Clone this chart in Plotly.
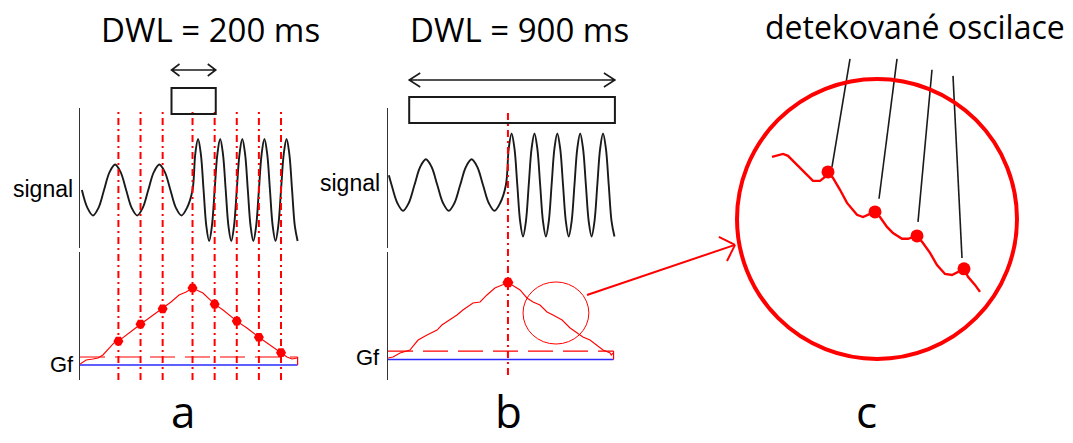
import math
import plotly.graph_objects as go

W, H = 1073, 443

# ---- data ---------------------------------------------------------------
# test signal sampled at eighth-periods (time in ms, amplitude):
# 5 Hz half-amplitude wave up to 500 ms, then 10 Hz full-amplitude wave
SIG_T = [-12, 0, 25, 50, 75, 100, 125, 150, 175, 200, 225, 250, 275, 300, 325, 350,
         375, 400, 425, 450, 475,
         500, 512.5, 525, 537.5, 550, 562.5, 575, 587.5,
         600, 612.5, 625, 637.5, 650, 662.5, 675, 687.5,
         700, 712.5, 725, 737.5, 750, 762.5, 775, 787.5,
         800, 812.5, 825, 837.5, 850, 862.5, 875, 887.5,
         900, 912.5, 925, 937.5, 950, 962.5, 975]
SIG_V = [0.19, 0, -0.35, -0.5, -0.35, 0, 0.35, 0.5, 0.35, 0, -0.35, -0.5, -0.35, 0, 0.35, 0.5,
         0.35, 0, -0.35, -0.5, -0.35,
         0, 0.71, 1, 0.71, 0, -0.71, -1, -0.71,
         0, 0.71, 1, 0.71, 0, -0.71, -1, -0.71,
         0, 0.71, 1, 0.71, 0, -0.71, -1, -0.71,
         0, 0.71, 1, 0.71, 0, -0.71, -1, -0.71,
         0, 0.71, 1, 0.71, 0, -0.71, -1]

# Gf with DWL = 200 ms
GF_A_T = [-8, 19, 50, 73, 95, 122, 145, 165, 199, 231, 265, 303, 335, 365, 403, 439,
          471, 500, 547, 600, 638, 700, 746, 800, 850, 900, 927, 950, 972]
GF_A_V = [0.13, 0.65, 0.78, 0.91, 1.30, 2.21, 2.86, 3.10, 3.90, 4.55, 5.30, 6.10,
          6.75, 7.30, 8.18, 9.09, 9.48, 10.0, 9.35, 7.90, 7.14, 5.70, 4.81, 3.60,
          2.60, 1.60, 1.04, 0.78, 0.91]
DET_A_T = [165, 265, 365, 500, 600, 700, 800, 900]
DET_A_V = [3.10, 5.30, 7.30, 10.0, 7.90, 5.70, 3.60, 1.60]
THR_A = 1.04

# Gf with DWL = 900 ms
GF_B_T = [-15, 6, 37, 80, 94, 116, 155, 199, 220, 255, 286, 312, 356, 387, 417, 452,
          483, 509, 527, 562, 592, 619, 649, 680, 706, 746, 781, 811, 837, 868, 899,
          925, 956, 961, 968]
GF_B_V = [0.19, 0.32, 0.84, 1.23, 1.75, 2.53, 3.18, 3.83, 4.48, 5.13, 5.78, 6.43,
          7.34, 7.47, 8.38, 9.29, 9.68, 10.0, 9.68, 9.03, 7.99, 7.47, 7.08, 6.17,
          5.78, 5.13, 4.09, 3.44, 2.92, 2.53, 1.88, 1.23, 0.84, 0.58, 0.84]
DET_B_T = [509]
DET_B_V = [10.0]
THR_B = 1.10

# analysis windows: (centre, DWL) in ms
WIN_A = (505, 200)
WIN_B = (527, 900)

# magnified detail of the descending Gf slope
ZOOM_T = [615, 626, 631, 640, 650, 656, 663, 668, 671, 676, 683, 690, 700, 706, 713,
          718, 723, 730, 736, 745, 751, 756, 760, 766, 773, 780, 788, 795, 801, 807,
          811, 818, 823]
ZOOM_V = [7.94, 8.03, 7.97, 7.69, 7.38, 7.19, 7.19, 7.31, 7.47, 7.28, 6.91, 6.50,
          6.13, 6.06, 6.16, 6.22, 6.06, 5.75, 5.56, 5.38, 5.38, 5.44, 5.47, 5.25,
          4.94, 4.56, 4.28, 4.25, 4.34, 4.44, 4.19, 3.94, 3.72]
ZOOM_DET_T = [671, 718, 760, 807]
ZOOM_DET_V = [7.47, 6.22, 5.47, 4.44]

# leader lines of the "detected oscillations" label (start near text, end near dot)
LEAD_T0 = [693, 740, 775, 796]
LEAD_V0 = [11.0, 11.0, 10.66, 10.47]
LEAD_T1 = [675, 722, 761, 805]
LEAD_V1 = [7.63, 6.63, 5.91, 4.78]

# ---- geometry -----------------------------------------------------------
A_XPX, B_XPX = (80, 300), (388, 616)
SIG_YPX, GF_YPX = (108, 248), (252, 380)
A_TR, B_TR = [-8.6, 985.8], [-15.75, 981.75]
A_SR, B_SR = [-1.137, 1.608], [-1.223, 1.495]
A_GR, B_GR = [-1.95, 14.68], [-2.66, 13.96]
C_TR, C_GR = [-157, 916], [-1.0, 12.84]

RED = "#ff0000"
INK = "#1a1a1a"


def fx(px):
    return px / W


def fy(py):
    return 1 - py / H


def xdom(p):
    return [fx(p[0]), fx(p[1])]


def ydom(p):
    return [fy(p[1]), fy(p[0])]


def ms_per_px(tr, xpx):
    return (tr[1] - tr[0]) / (xpx[1] - xpx[0])


fig = go.Figure()

# signals
fig.add_trace(go.Scatter(x=SIG_T[1:], y=SIG_V[1:], xaxis="x", yaxis="y", mode="lines",
                         line=dict(color=INK, width=1.9, shape="spline")))
fig.add_trace(go.Scatter(x=SIG_T, y=SIG_V, xaxis="x2", yaxis="y3", mode="lines",
                         line=dict(color=INK, width=1.9, shape="spline")))


def gf_panel(xa, ya, tr, gt, gv, dt, dv, thr, msize):
    t_end = gt[-1]
    fig.add_trace(go.Scatter(x=[tr[0], t_end + 3], y=[0, 0], xaxis=xa, yaxis=ya,
                             mode="lines", line=dict(color="#2a2aff", width=1.3)))
    fig.add_trace(go.Scatter(x=[tr[0], t_end + 3], y=[thr, thr], xaxis=xa, yaxis=ya,
                             mode="lines",
                             line=dict(color=RED, width=1.2, dash="25px,10px")))
    fig.add_trace(go.Scatter(x=[t_end + 3, t_end + 3], y=[thr, 0], xaxis=xa, yaxis=ya,
                             mode="lines", line=dict(color=RED, width=1.2)))
    fig.add_trace(go.Scatter(x=gt, y=gv, xaxis=xa, yaxis=ya, mode="lines",
                             line=dict(color=RED, width=1.1)))
    fig.add_trace(go.Scatter(x=dt, y=dv, xaxis=xa, yaxis=ya, mode="markers",
                             marker=dict(color=RED, size=msize, symbol="hexagon2",
                                         line=dict(width=0))))


gf_panel("x", "y2", A_TR, GF_A_T, GF_A_V, DET_A_T, DET_A_V, THR_A, 10)
gf_panel("x2", "y4", B_TR, GF_B_T, GF_B_V, DET_B_T, DET_B_V, THR_B, 11)

# magnified detail
fig.add_trace(go.Scatter(x=ZOOM_T, y=ZOOM_V, xaxis="x3", yaxis="y5", mode="lines",
                         line=dict(color=RED, width=2.4)))
fig.add_trace(go.Scatter(x=ZOOM_DET_T, y=ZOOM_DET_V, xaxis="x3", yaxis="y5",
                         mode="markers", marker=dict(color=RED, size=13)))
lx, ly = [], []
for a, b, c, d in zip(LEAD_T0, LEAD_V0, LEAD_T1, LEAD_V1):
    lx += [a, c, None]
    ly += [b, d, None]
fig.add_trace(go.Scatter(x=lx, y=ly, xaxis="x3", yaxis="y5", mode="lines",
                         line=dict(color=INK, width=1.6)))

# arrow from the small circle to the magnified view (c axes: 1 unit = 1 px in t, 32 px in Gf)
C_PXT = 1.0
C_PXG = H / (C_GR[1] - C_GR[0])
ar0, ar1 = (430, 3.625), (578, 5.19)
dxp = (ar1[0] - ar0[0]) * C_PXT
dyp = (ar1[1] - ar0[1]) * C_PXG
L = math.hypot(dxp, dyp)
ux, uy = dxp / L, dyp / L
hx, hy = [], []
for s in (1, -1):
    ang = s * math.radians(45)
    vx = -(ux * math.cos(ang) - uy * math.sin(ang)) * 18
    vy = -(ux * math.sin(ang) + uy * math.cos(ang)) * 18
    hx += [ar1[0] + vx / C_PXT, ar1[0], None]
    hy += [ar1[1] + vy / C_PXG, ar1[1], None]
fig.add_trace(go.Scatter(x=[ar0[0], ar1[0], None] + hx, y=[ar0[1], ar1[1], None] + hy,
                         xaxis="x3", yaxis="y5", mode="lines",
                         line=dict(color=RED, width=2)))

shapes = []
DASHDOT = "7px,4px,2px,4px"
for t in DET_A_T:
    shapes.append(dict(type="line", xref="x", yref="paper", x0=t, x1=t,
                       y0=fy(380), y1=fy(108),
                       line=dict(color=RED, width=2, dash=DASHDOT)))
for t in DET_B_T:
    shapes.append(dict(type="line", xref="x2", yref="paper", x0=t, x1=t,
                       y0=fy(375), y1=fy(113),
                       line=dict(color=RED, width=2, dash=DASHDOT)))


def window(xref, tr, xpx, win, box_py, arrow_py, head):
    c, w = win
    t0, t1 = c - w / 2, c + w / 2
    shapes.append(dict(type="rect", xref=xref, yref="paper", x0=t0, x1=t1,
                       y0=fy(box_py[1]), y1=fy(box_py[0]),
                       line=dict(color=INK, width=2)))
    k = ms_per_px(tr, xpx)
    yA = fy(arrow_py)
    hl, hh = head
    path = (f"M{t0},{yA} L{t1},{yA} "
            f"M{t0 + hl * k},{yA + hh / H} L{t0},{yA} L{t0 + hl * k},{yA - hh / H} "
            f"M{t1 - hl * k},{yA + hh / H} L{t1},{yA} L{t1 - hl * k},{yA - hh / H}")
    shapes.append(dict(type="path", xref=xref, yref="paper", path=path,
                       line=dict(color=INK, width=1.6)))


window("x", A_TR, A_XPX, WIN_A, (88, 114), 70, (8, 6))
window("x2", B_TR, B_XPX, WIN_B, (97, 123), 80, (11, 7))

# small circle on the slope (b) and its magnified view (c)
shapes.append(dict(type="circle", xref="x2", yref="y4", x0=719 - 144, x1=719 + 144,
                   y0=6.04 - 4.03, y1=6.04 + 4.03, line=dict(color=RED, width=1)))
shapes.append(dict(type="circle", xref="x3", yref="y5", x0=720 - 140, x1=720 + 140,
                   y0=6.0 - 140 / C_PXG, y1=6.0 + 140 / C_PXG,
                   line=dict(color=RED, width=4)))

HUM = "Open Sans"
ARI = "Liberation Sans"
ann = [
    dict(text="DWL = 200 ms", x=fx(210), y=fy(29), font=dict(family=HUM, size=33, color="#000")),
    dict(text="DWL = 900 ms", x=fx(519), y=fy(29), font=dict(family=HUM, size=33, color="#000")),
    dict(text="detekované oscilace", x=fx(915), y=fy(27), font=dict(family=HUM, size=32, color="#000")),
    dict(text="a", x=fx(183), y=0, yanchor="bottom", font=dict(family=HUM, size=44, color="#000")),
    dict(text="b", x=fx(508), y=0, yanchor="bottom", font=dict(family=HUM, size=44, color="#000")),
    dict(text="c", x=fx(866), y=0, yanchor="bottom", font=dict(family=HUM, size=44, color="#000")),
    dict(text="signal", x=fx(75), y=fy(189), xanchor="right", font=dict(family=ARI, size=23, color="#000")),
    dict(text="Gf", x=fx(76), y=fy(364), xanchor="right", font=dict(family=ARI, size=22, color="#000")),
    dict(text="signal", x=fx(382), y=fy(183), xanchor="right", font=dict(family=ARI, size=23, color="#000")),
    dict(text="Gf", x=fx(382), y=fy(357), xanchor="right", font=dict(family=ARI, size=22, color="#000")),
]
for a in ann:
    a.setdefault("xanchor", "center")
    a.setdefault("yanchor", "middle")
    a.update(xref="paper", yref="paper", showarrow=False)

hidden = dict(visible=False, fixedrange=True)
yline = dict(showline=True, linecolor="#333", linewidth=1.2, showticklabels=False,
             ticks="", showgrid=False, zeroline=False, fixedrange=True)

fig.update_layout(
    width=W, height=H, margin=dict(l=0, r=0, t=0, b=0),
    paper_bgcolor="white", plot_bgcolor="rgba(0,0,0,0)", showlegend=False,
    xaxis=dict(domain=xdom(A_XPX), range=A_TR, anchor="y", **hidden),
    yaxis=dict(domain=ydom(SIG_YPX), range=A_SR, anchor="x", **yline),
    yaxis2=dict(domain=ydom(GF_YPX), range=A_GR, anchor="x", **yline),
    xaxis2=dict(domain=xdom(B_XPX), range=B_TR, anchor="y3", **hidden),
    yaxis3=dict(domain=ydom(SIG_YPX), range=B_SR, anchor="x2", **yline),
    yaxis4=dict(domain=ydom(GF_YPX), range=B_GR, anchor="x2", **yline),
    xaxis3=dict(domain=[0, 1], range=C_TR, anchor="y5", **hidden),
    yaxis5=dict(domain=[0, 1], range=C_GR, anchor="x3", **hidden),
    shapes=shapes, annotations=ann,
)

fig.write_html("out.html")
